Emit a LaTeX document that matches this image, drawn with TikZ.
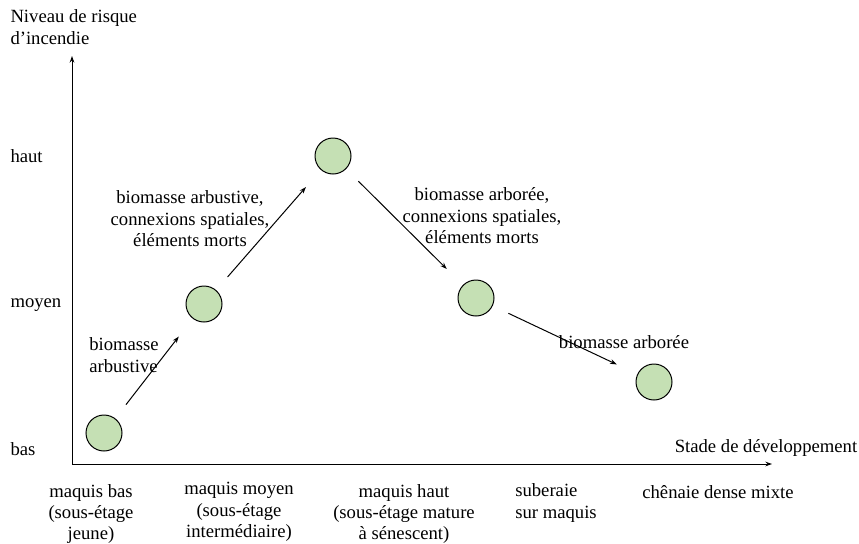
\documentclass[tikz,border=0pt]{standalone}
\usepackage{fontspec}
\setmainfont{Liberation Serif}
\usetikzlibrary{arrows.meta}
\definecolor{stadefill}{RGB}{197,224,180}
\tikzstyle{every path}=[line width=0.75pt]
\tikzstyle{every node}=[font=\fontsize{14}{16.1}\selectfont, inner sep=0pt]
\tikzstyle{stade}=[circle, draw, fill=stadefill, minimum size=27pt]
\tikzstyle{fleche}=[-{Stealth[length=5pt,width=3.5pt]}, shorten <=13pt, shorten >=17pt]
\begin{document}
\begin{tikzpicture}[x=0.75pt, y=-0.75pt]
            \useasboundingbox (0,0) rectangle (859,543);

            % axes
            \coordinate (origine) at (72,464);
            \coordinate (haut-axe) at (72,56);
            \coordinate (fin-axe) at (772,464);
            \draw[{Stealth[length=5pt,width=3.5pt]}-{Stealth[length=5pt,width=3.5pt]}] (haut-axe) |- (fin-axe);

            \node[anchor=west, align=left] (titre) at (10,27) {Niveau de risque\\d'incendie};
            \node[anchor=west] (haut) at (10,156) {haut};
            \node[anchor=west] (moyen) at (10,305) {moyen};
            \node[anchor=west] (bas) at (10,449) {bas};
            \node (axe-x) at (766,448) {Stade de développement};

            % stades
            \node[stade] (sbas) at (104,433) {};
            \node[stade] (smoyen) at (204,304) {};
            \node[stade] (shaut) at (333,156) {};
            \node[stade] (ssuberaie) at (476,298) {};
            \node[stade] (schenaie) at (654,382) {};

            \draw[fleche] (sbas) -- (smoyen);
            \draw[fleche] (smoyen) -- (shaut);
            \draw[fleche] (shaut) -- (ssuberaie);
            \draw[fleche] (ssuberaie) -- (schenaie);

            \node[align=left] (l1) at (124,355) {biomasse\\arbustive};
            \node[align=center] (l2) at (190,219) {biomasse arbustive,\\connexions spatiales,\\éléments morts};
            \node[align=center] (l3) at (482,216) {biomasse arborée,\\connexions spatiales,\\éléments morts};
            \node (l4) at (624,342) {biomasse arborée};

            % stades de developpement
            \node[align=center] (m1) at (91,514) {maquis bas\\(sous-étage\\jeune)};
            \node[align=center] (m2) at (239,512) {maquis moyen\\(sous-étage\\intermédiaire)};
            \node[align=center] (m3) at (404,514) {maquis haut\\(sous-étage mature\\à sénescent)};
            \node[align=left] (m4) at (556,503) {suberaie\\sur maquis};
            \node (m5) at (718,492) {chênaie dense mixte};
        \end{tikzpicture}
\end{document}
